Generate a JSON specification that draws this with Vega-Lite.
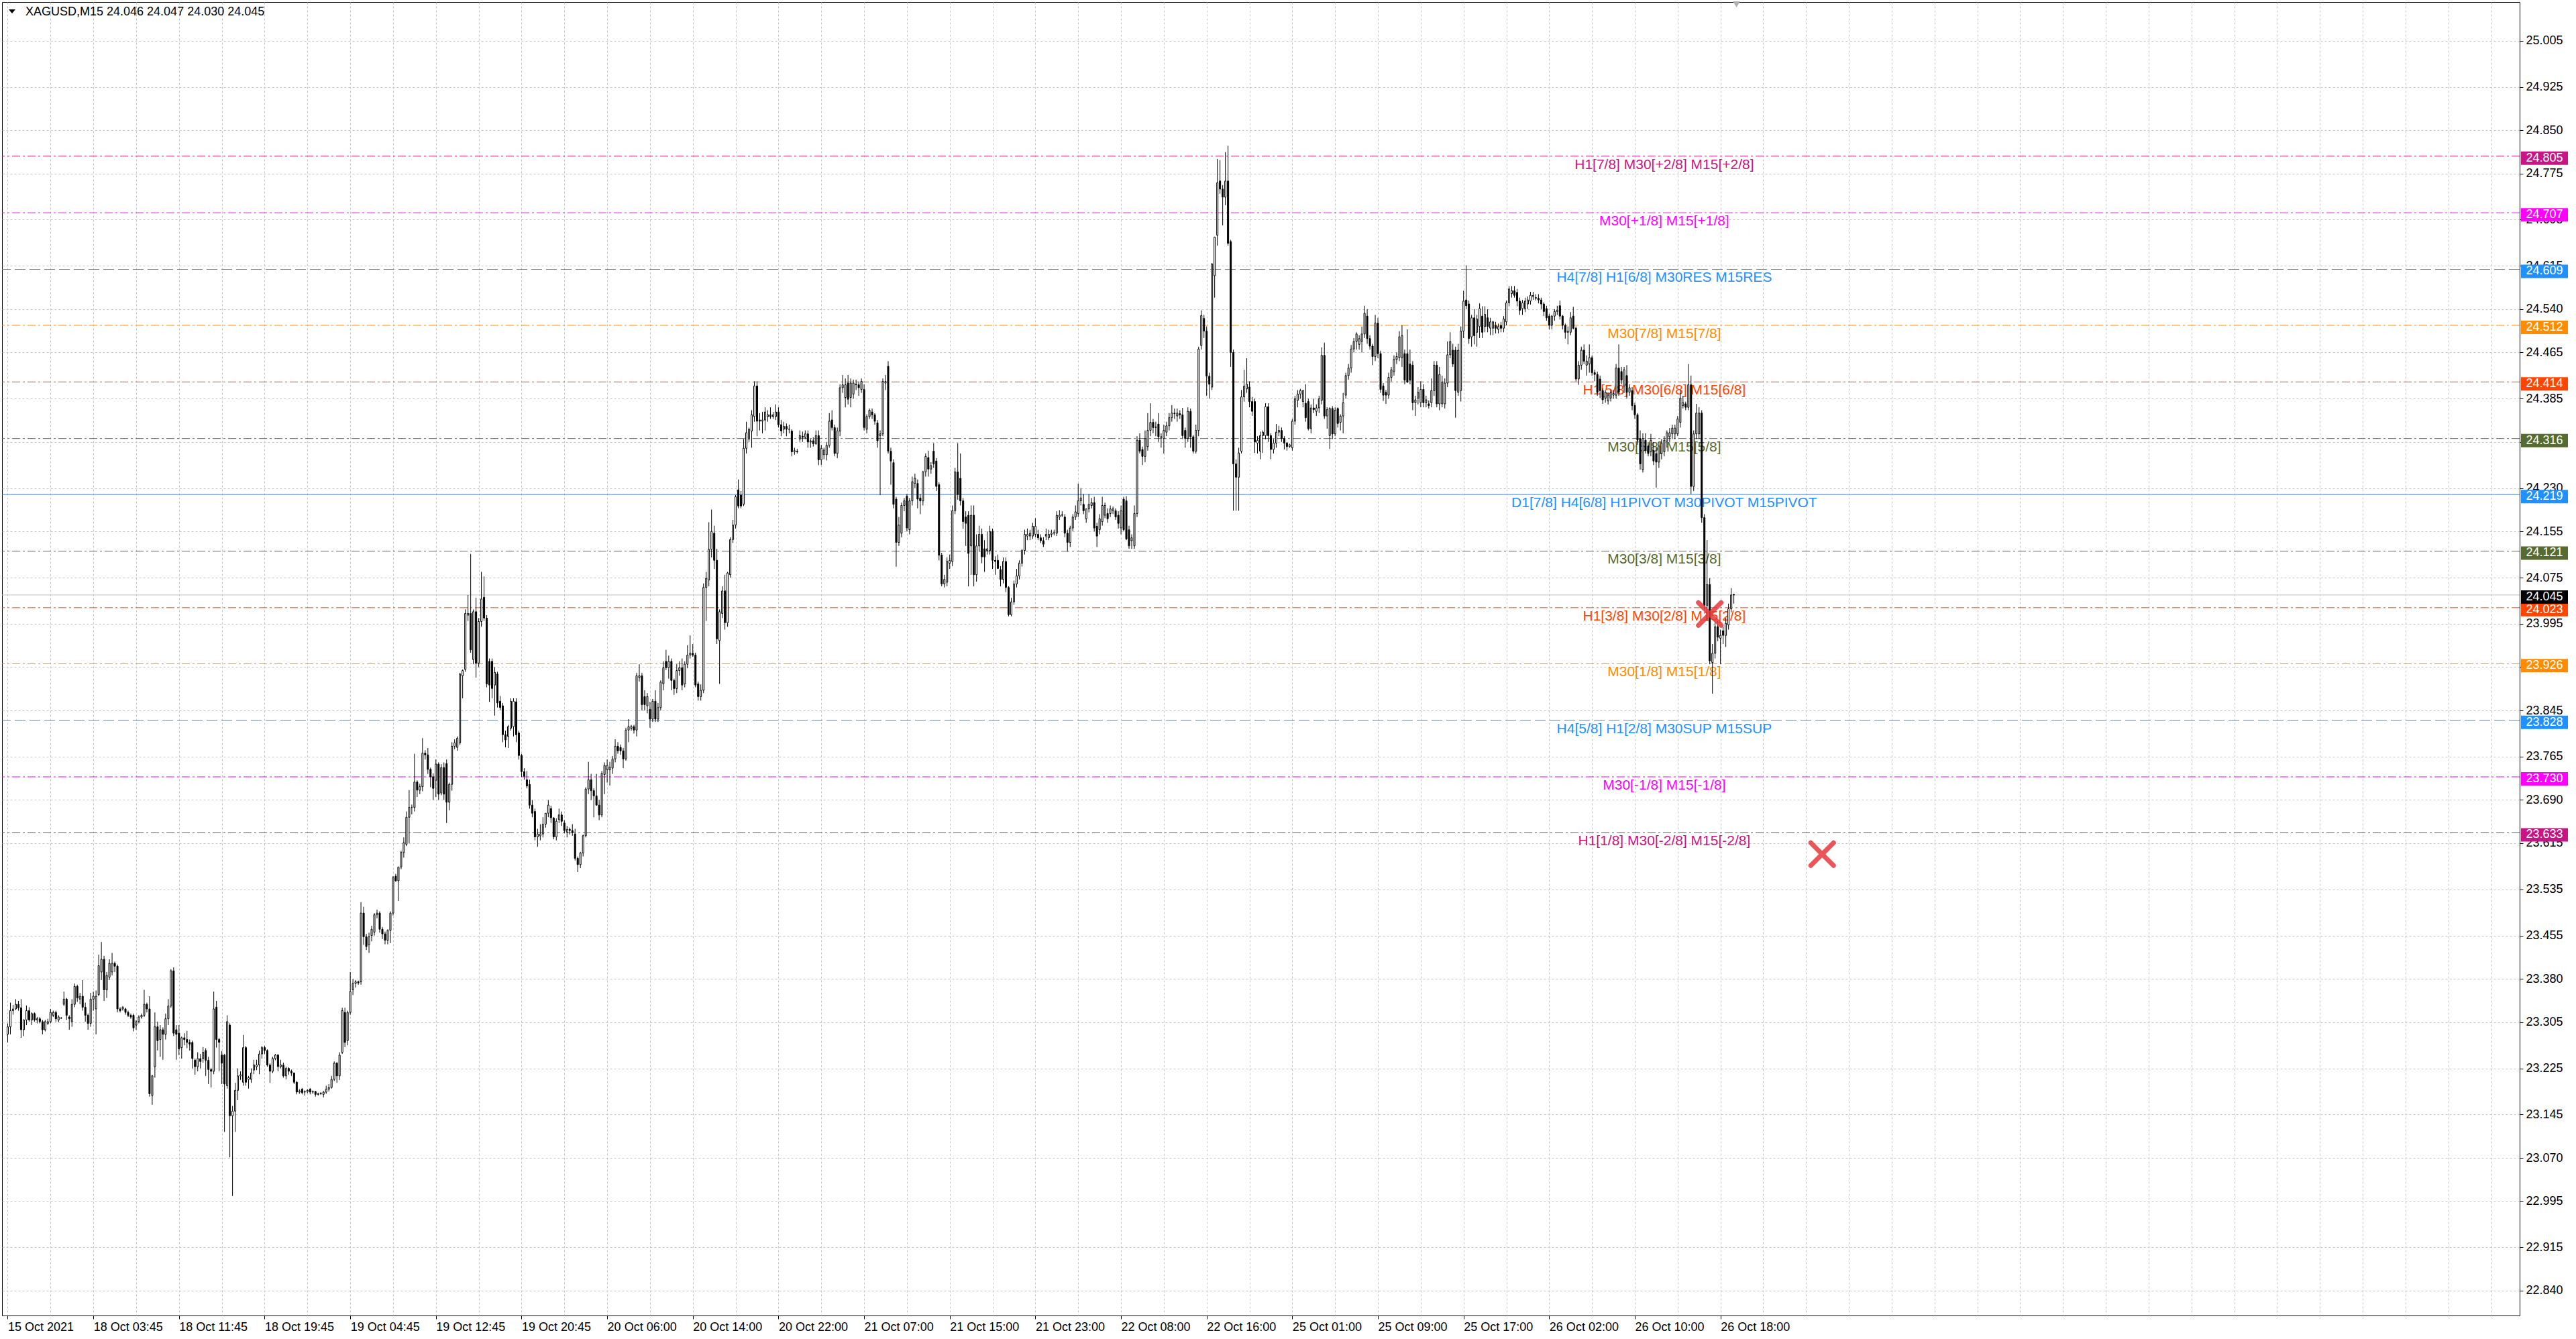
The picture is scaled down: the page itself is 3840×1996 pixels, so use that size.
{
"$schema":"https://vega.github.io/schema/vega-lite/v6.json",
"width":3753,"height":1958,
"autosize":{"type":"none"},
"padding":{"left":3,"top":3,"right":84,"bottom":35},
"background":"white",
"config":{"view":{"stroke":"#000000","strokeWidth":1},"font":"Liberation Sans"},
"datasets":{
"levels":[
{"p":24.805,"k":"vio","lab":"H1[7/8] M30[+2/8] M15[+2/8]"},
{"p":24.707,"k":"mag","lab":"M30[+1/8] M15[+1/8]"},
{"p":24.609,"k":"blu","lab":"H4[7/8] H1[6/8] M30RES M15RES"},
{"p":24.512,"k":"org","lab":"M30[7/8] M15[7/8]"},
{"p":24.414,"k":"red","lab":"H1[5/8] M30[6/8] M15[6/8]"},
{"p":24.316,"k":"olv","lab":"M30[5/8] M15[5/8]"},
{"p":24.219,"k":"piv","lab":"D1[7/8] H4[6/8] H1PIVOT M30PIVOT M15PIVOT"},
{"p":24.121,"k":"olv","lab":"M30[3/8] M15[3/8]"},
{"p":24.023,"k":"red","lab":"H1[3/8] M30[2/8] M15[2/8]"},
{"p":23.926,"k":"org","lab":"M30[1/8] M15[1/8]"},
{"p":23.828,"k":"blu","lab":"H4[5/8] H1[2/8] M30SUP M15SUP"},
{"p":23.730,"k":"mag","lab":"M30[-1/8] M15[-1/8]"},
{"p":23.633,"k":"vio","lab":"H1[1/8] M30[-2/8] M15[-2/8]"}
],
"cur":[{"p":24.045}],
"marks":[{"i":636,"p":24.012},{"i":678,"p":23.596}],
"bars":[
{"i":0,"o":23.284,"h":23.303,"l":23.270,"c":23.297},
{"i":1,"o":23.297,"h":23.339,"l":23.284,"c":23.325},
{"i":2,"o":23.325,"h":23.335,"l":23.318,"c":23.328},
{"i":3,"o":23.328,"h":23.345,"l":23.326,"c":23.336},
{"i":4,"o":23.336,"h":23.342,"l":23.325,"c":23.330},
{"i":5,"o":23.330,"h":23.345,"l":23.278,"c":23.292},
{"i":6,"o":23.292,"h":23.310,"l":23.281,"c":23.309},
{"i":7,"o":23.309,"h":23.334,"l":23.300,"c":23.325},
{"i":8,"o":23.325,"h":23.331,"l":23.306,"c":23.309},
{"i":9,"o":23.309,"h":23.322,"l":23.300,"c":23.320},
{"i":10,"o":23.320,"h":23.322,"l":23.306,"c":23.309},
{"i":11,"o":23.309,"h":23.314,"l":23.303,"c":23.311},
{"i":12,"o":23.311,"h":23.314,"l":23.303,"c":23.306},
{"i":13,"o":23.306,"h":23.309,"l":23.284,"c":23.292},
{"i":14,"o":23.292,"h":23.309,"l":23.289,"c":23.306},
{"i":15,"o":23.303,"h":23.311,"l":23.300,"c":23.306},
{"i":16,"o":23.306,"h":23.328,"l":23.303,"c":23.322},
{"i":17,"o":23.317,"h":23.325,"l":23.314,"c":23.322},
{"i":18,"o":23.322,"h":23.325,"l":23.306,"c":23.311},
{"i":19,"o":23.309,"h":23.317,"l":23.305,"c":23.314},
{"i":20,"o":23.312,"h":23.314,"l":23.311,"c":23.312},
{"i":21,"o":23.336,"h":23.358,"l":23.333,"c":23.345},
{"i":22,"o":23.345,"h":23.347,"l":23.309,"c":23.317},
{"i":23,"o":23.314,"h":23.317,"l":23.292,"c":23.311},
{"i":24,"o":23.306,"h":23.345,"l":23.297,"c":23.336},
{"i":25,"o":23.336,"h":23.372,"l":23.331,"c":23.367},
{"i":26,"o":23.367,"h":23.370,"l":23.340,"c":23.347},
{"i":27,"o":23.345,"h":23.356,"l":23.336,"c":23.350},
{"i":28,"o":23.350,"h":23.378,"l":23.325,"c":23.331},
{"i":29,"o":23.331,"h":23.339,"l":23.306,"c":23.317},
{"i":30,"o":23.317,"h":23.320,"l":23.292,"c":23.303},
{"i":31,"o":23.303,"h":23.356,"l":23.297,"c":23.345},
{"i":32,"o":23.345,"h":23.358,"l":23.325,"c":23.350},
{"i":33,"o":23.328,"h":23.360,"l":23.284,"c":23.350},
{"i":34,"o":23.353,"h":23.422,"l":23.350,"c":23.403},
{"i":35,"o":23.392,"h":23.444,"l":23.378,"c":23.414},
{"i":36,"o":23.414,"h":23.420,"l":23.342,"c":23.361},
{"i":37,"o":23.361,"h":23.392,"l":23.347,"c":23.386},
{"i":38,"o":23.383,"h":23.414,"l":23.378,"c":23.407},
{"i":39,"o":23.392,"h":23.425,"l":23.386,"c":23.407},
{"i":40,"o":23.407,"h":23.410,"l":23.392,"c":23.402},
{"i":41,"o":23.402,"h":23.405,"l":23.322,"c":23.328},
{"i":42,"o":23.328,"h":23.331,"l":23.322,"c":23.325},
{"i":43,"o":23.328,"h":23.333,"l":23.325,"c":23.331},
{"i":44,"o":23.328,"h":23.330,"l":23.318,"c":23.322},
{"i":45,"o":23.322,"h":23.325,"l":23.314,"c":23.317},
{"i":46,"o":23.317,"h":23.320,"l":23.311,"c":23.314},
{"i":47,"o":23.317,"h":23.320,"l":23.289,"c":23.295},
{"i":48,"o":23.300,"h":23.309,"l":23.292,"c":23.306},
{"i":49,"o":23.306,"h":23.317,"l":23.303,"c":23.314},
{"i":50,"o":23.314,"h":23.320,"l":23.311,"c":23.317},
{"i":51,"o":23.317,"h":23.361,"l":23.314,"c":23.336},
{"i":52,"o":23.336,"h":23.339,"l":23.322,"c":23.328},
{"i":53,"o":23.328,"h":23.350,"l":23.176,"c":23.181},
{"i":54,"o":23.178,"h":23.214,"l":23.162,"c":23.212},
{"i":55,"o":23.228,"h":23.322,"l":23.209,"c":23.297},
{"i":56,"o":23.297,"h":23.306,"l":23.256,"c":23.273},
{"i":57,"o":23.275,"h":23.300,"l":23.245,"c":23.292},
{"i":58,"o":23.292,"h":23.296,"l":23.240,"c":23.284},
{"i":59,"o":23.284,"h":23.320,"l":23.275,"c":23.311},
{"i":60,"o":23.311,"h":23.345,"l":23.300,"c":23.333},
{"i":61,"o":23.333,"h":23.397,"l":23.330,"c":23.394},
{"i":62,"o":23.394,"h":23.400,"l":23.281,"c":23.286},
{"i":63,"o":23.292,"h":23.300,"l":23.240,"c":23.284},
{"i":64,"o":23.286,"h":23.300,"l":23.248,"c":23.259},
{"i":65,"o":23.261,"h":23.280,"l":23.242,"c":23.278},
{"i":66,"o":23.278,"h":23.286,"l":23.265,"c":23.275},
{"i":67,"o":23.275,"h":23.290,"l":23.260,"c":23.270},
{"i":68,"o":23.270,"h":23.275,"l":23.256,"c":23.267},
{"i":69,"o":23.270,"h":23.273,"l":23.225,"c":23.242},
{"i":70,"o":23.239,"h":23.242,"l":23.214,"c":23.228},
{"i":71,"o":23.228,"h":23.253,"l":23.220,"c":23.242},
{"i":72,"o":23.242,"h":23.250,"l":23.225,"c":23.237},
{"i":73,"o":23.242,"h":23.262,"l":23.235,"c":23.253},
{"i":74,"o":23.256,"h":23.260,"l":23.212,"c":23.239},
{"i":75,"o":23.239,"h":23.245,"l":23.198,"c":23.223},
{"i":76,"o":23.223,"h":23.226,"l":23.192,"c":23.220},
{"i":77,"o":23.220,"h":23.358,"l":23.215,"c":23.328},
{"i":78,"o":23.331,"h":23.342,"l":23.261,"c":23.275},
{"i":79,"o":23.275,"h":23.278,"l":23.220,"c":23.270},
{"i":80,"o":23.248,"h":23.255,"l":23.198,"c":23.234},
{"i":81,"o":23.248,"h":23.250,"l":23.115,"c":23.198},
{"i":82,"o":23.195,"h":23.317,"l":23.190,"c":23.306},
{"i":83,"o":23.300,"h":23.303,"l":23.071,"c":23.143},
{"i":84,"o":23.143,"h":23.160,"l":23.004,"c":23.151},
{"i":85,"o":23.151,"h":23.200,"l":23.115,"c":23.187},
{"i":86,"o":23.187,"h":23.225,"l":23.170,"c":23.212},
{"i":87,"o":23.212,"h":23.220,"l":23.205,"c":23.214},
{"i":88,"o":23.201,"h":23.283,"l":23.195,"c":23.261},
{"i":89,"o":23.261,"h":23.264,"l":23.195,"c":23.201},
{"i":90,"o":23.206,"h":23.212,"l":23.190,"c":23.209},
{"i":91,"o":23.206,"h":23.225,"l":23.200,"c":23.217},
{"i":92,"o":23.222,"h":23.240,"l":23.215,"c":23.231},
{"i":93,"o":23.228,"h":23.240,"l":23.222,"c":23.231},
{"i":94,"o":23.231,"h":23.256,"l":23.215,"c":23.250},
{"i":95,"o":23.250,"h":23.264,"l":23.242,"c":23.261},
{"i":96,"o":23.261,"h":23.264,"l":23.250,"c":23.256},
{"i":97,"o":23.256,"h":23.258,"l":23.228,"c":23.231},
{"i":98,"o":23.231,"h":23.234,"l":23.200,"c":23.220},
{"i":99,"o":23.220,"h":23.245,"l":23.217,"c":23.242},
{"i":100,"o":23.242,"h":23.250,"l":23.239,"c":23.248},
{"i":101,"o":23.248,"h":23.250,"l":23.220,"c":23.228},
{"i":102,"o":23.228,"h":23.240,"l":23.225,"c":23.231},
{"i":103,"o":23.231,"h":23.235,"l":23.209,"c":23.212},
{"i":104,"o":23.212,"h":23.228,"l":23.206,"c":23.225},
{"i":105,"o":23.225,"h":23.227,"l":23.214,"c":23.220},
{"i":106,"o":23.220,"h":23.223,"l":23.212,"c":23.217},
{"i":107,"o":23.217,"h":23.218,"l":23.198,"c":23.201},
{"i":108,"o":23.201,"h":23.203,"l":23.180,"c":23.184},
{"i":109,"o":23.184,"h":23.189,"l":23.181,"c":23.186},
{"i":110,"o":23.189,"h":23.191,"l":23.180,"c":23.183},
{"i":111,"o":23.184,"h":23.187,"l":23.178,"c":23.185},
{"i":112,"o":23.185,"h":23.189,"l":23.182,"c":23.187},
{"i":113,"o":23.189,"h":23.191,"l":23.180,"c":23.184},
{"i":114,"o":23.184,"h":23.187,"l":23.181,"c":23.185},
{"i":115,"o":23.185,"h":23.186,"l":23.176,"c":23.180},
{"i":116,"o":23.180,"h":23.183,"l":23.178,"c":23.181},
{"i":117,"o":23.181,"h":23.184,"l":23.179,"c":23.182},
{"i":118,"o":23.180,"h":23.186,"l":23.175,"c":23.184},
{"i":119,"o":23.184,"h":23.195,"l":23.181,"c":23.189},
{"i":120,"o":23.189,"h":23.198,"l":23.185,"c":23.192},
{"i":121,"o":23.192,"h":23.212,"l":23.190,"c":23.206},
{"i":122,"o":23.206,"h":23.237,"l":23.203,"c":23.234},
{"i":123,"o":23.234,"h":23.236,"l":23.200,"c":23.212},
{"i":124,"o":23.212,"h":23.253,"l":23.205,"c":23.248},
{"i":125,"o":23.253,"h":23.330,"l":23.250,"c":23.325},
{"i":126,"o":23.322,"h":23.330,"l":23.262,"c":23.270},
{"i":127,"o":23.273,"h":23.325,"l":23.265,"c":23.322},
{"i":128,"o":23.322,"h":23.392,"l":23.318,"c":23.358},
{"i":129,"o":23.361,"h":23.380,"l":23.352,"c":23.372},
{"i":130,"o":23.372,"h":23.378,"l":23.365,"c":23.375},
{"i":131,"o":23.375,"h":23.377,"l":23.370,"c":23.373},
{"i":132,"o":23.375,"h":23.513,"l":23.370,"c":23.494},
{"i":133,"o":23.494,"h":23.505,"l":23.439,"c":23.453},
{"i":134,"o":23.453,"h":23.458,"l":23.430,"c":23.436},
{"i":135,"o":23.439,"h":23.460,"l":23.425,"c":23.453},
{"i":136,"o":23.455,"h":23.472,"l":23.445,"c":23.466},
{"i":137,"o":23.461,"h":23.494,"l":23.455,"c":23.491},
{"i":138,"o":23.491,"h":23.500,"l":23.485,"c":23.494},
{"i":139,"o":23.494,"h":23.497,"l":23.460,"c":23.466},
{"i":140,"o":23.466,"h":23.470,"l":23.449,"c":23.458},
{"i":141,"o":23.458,"h":23.462,"l":23.440,"c":23.447},
{"i":142,"o":23.447,"h":23.466,"l":23.440,"c":23.464},
{"i":143,"o":23.464,"h":23.497,"l":23.442,"c":23.494},
{"i":144,"o":23.494,"h":23.558,"l":23.490,"c":23.555},
{"i":145,"o":23.558,"h":23.562,"l":23.548,"c":23.550},
{"i":146,"o":23.550,"h":23.574,"l":23.515,"c":23.574},
{"i":147,"o":23.574,"h":23.602,"l":23.570,"c":23.599},
{"i":148,"o":23.599,"h":23.625,"l":23.590,"c":23.616},
{"i":149,"o":23.613,"h":23.670,"l":23.610,"c":23.660},
{"i":150,"o":23.660,"h":23.707,"l":23.615,"c":23.677},
{"i":151,"o":23.677,"h":23.682,"l":23.665,"c":23.677},
{"i":152,"o":23.677,"h":23.770,"l":23.670,"c":23.721},
{"i":153,"o":23.721,"h":23.724,"l":23.695,"c":23.707},
{"i":154,"o":23.707,"h":23.718,"l":23.700,"c":23.713},
{"i":155,"o":23.713,"h":23.797,"l":23.705,"c":23.771},
{"i":156,"o":23.771,"h":23.776,"l":23.760,"c":23.768},
{"i":157,"o":23.768,"h":23.780,"l":23.735,"c":23.743},
{"i":158,"o":23.743,"h":23.746,"l":23.712,"c":23.730},
{"i":159,"o":23.730,"h":23.736,"l":23.690,"c":23.710},
{"i":160,"o":23.724,"h":23.760,"l":23.695,"c":23.752},
{"i":161,"o":23.752,"h":23.755,"l":23.690,"c":23.700},
{"i":162,"o":23.702,"h":23.752,"l":23.698,"c":23.746},
{"i":163,"o":23.746,"h":23.755,"l":23.690,"c":23.700},
{"i":164,"o":23.753,"h":23.760,"l":23.650,"c":23.686},
{"i":165,"o":23.686,"h":23.720,"l":23.672,"c":23.717},
{"i":166,"o":23.717,"h":23.790,"l":23.706,"c":23.783},
{"i":167,"o":23.783,"h":23.795,"l":23.778,"c":23.789},
{"i":168,"o":23.781,"h":23.800,"l":23.775,"c":23.797},
{"i":169,"o":23.789,"h":23.910,"l":23.785,"c":23.908},
{"i":170,"o":23.905,"h":23.916,"l":23.866,"c":23.914},
{"i":171,"o":23.916,"h":24.020,"l":23.912,"c":24.013},
{"i":172,"o":24.010,"h":24.045,"l":24.000,"c":24.013},
{"i":173,"o":24.013,"h":24.116,"l":23.945,"c":23.950},
{"i":174,"o":23.933,"h":24.020,"l":23.925,"c":24.016},
{"i":175,"o":24.016,"h":24.040,"l":23.902,"c":23.927},
{"i":176,"o":23.927,"h":24.005,"l":23.920,"c":23.999},
{"i":177,"o":23.999,"h":24.085,"l":23.990,"c":24.038},
{"i":178,"o":24.041,"h":24.077,"l":24.000,"c":24.005},
{"i":179,"o":24.005,"h":24.010,"l":23.885,"c":23.891},
{"i":180,"o":23.930,"h":23.935,"l":23.860,"c":23.889},
{"i":181,"o":23.930,"h":23.935,"l":23.866,"c":23.883},
{"i":182,"o":23.889,"h":23.920,"l":23.836,"c":23.911},
{"i":183,"o":23.908,"h":23.912,"l":23.850,"c":23.858},
{"i":184,"o":23.861,"h":23.870,"l":23.845,"c":23.850},
{"i":185,"o":23.853,"h":23.858,"l":23.790,"c":23.803},
{"i":186,"o":23.803,"h":23.810,"l":23.781,"c":23.794},
{"i":187,"o":23.800,"h":23.820,"l":23.780,"c":23.817},
{"i":188,"o":23.814,"h":23.866,"l":23.810,"c":23.861},
{"i":189,"o":23.817,"h":23.866,"l":23.800,"c":23.861},
{"i":190,"o":23.860,"h":23.866,"l":23.790,"c":23.803},
{"i":191,"o":23.806,"h":23.810,"l":23.760,"c":23.767},
{"i":192,"o":23.767,"h":23.770,"l":23.730,"c":23.739},
{"i":193,"o":23.739,"h":23.745,"l":23.725,"c":23.731},
{"i":194,"o":23.725,"h":23.740,"l":23.710,"c":23.714},
{"i":195,"o":23.717,"h":23.725,"l":23.675,"c":23.681},
{"i":196,"o":23.681,"h":23.690,"l":23.660,"c":23.667},
{"i":197,"o":23.670,"h":23.675,"l":23.620,"c":23.626},
{"i":198,"o":23.626,"h":23.640,"l":23.609,"c":23.631},
{"i":199,"o":23.628,"h":23.648,"l":23.620,"c":23.631},
{"i":200,"o":23.631,"h":23.660,"l":23.625,"c":23.648},
{"i":201,"o":23.648,"h":23.667,"l":23.642,"c":23.667},
{"i":202,"o":23.667,"h":23.690,"l":23.660,"c":23.681},
{"i":203,"o":23.675,"h":23.680,"l":23.650,"c":23.659},
{"i":204,"o":23.659,"h":23.660,"l":23.622,"c":23.626},
{"i":205,"o":23.626,"h":23.658,"l":23.620,"c":23.653},
{"i":206,"o":23.656,"h":23.675,"l":23.650,"c":23.664},
{"i":207,"o":23.664,"h":23.670,"l":23.645,"c":23.653},
{"i":208,"o":23.650,"h":23.655,"l":23.632,"c":23.637},
{"i":209,"o":23.634,"h":23.645,"l":23.625,"c":23.639},
{"i":210,"o":23.639,"h":23.642,"l":23.630,"c":23.637},
{"i":211,"o":23.637,"h":23.648,"l":23.628,"c":23.634},
{"i":212,"o":23.631,"h":23.640,"l":23.585,"c":23.589},
{"i":213,"o":23.589,"h":23.592,"l":23.565,"c":23.578},
{"i":214,"o":23.578,"h":23.600,"l":23.572,"c":23.598},
{"i":215,"o":23.598,"h":23.630,"l":23.592,"c":23.628},
{"i":216,"o":23.628,"h":23.712,"l":23.625,"c":23.709},
{"i":217,"o":23.709,"h":23.756,"l":23.700,"c":23.725},
{"i":218,"o":23.725,"h":23.735,"l":23.690,"c":23.706},
{"i":219,"o":23.706,"h":23.710,"l":23.660,"c":23.697},
{"i":220,"o":23.697,"h":23.735,"l":23.680,"c":23.681},
{"i":221,"o":23.681,"h":23.690,"l":23.655,"c":23.664},
{"i":222,"o":23.664,"h":23.740,"l":23.660,"c":23.736},
{"i":223,"o":23.734,"h":23.755,"l":23.700,"c":23.750},
{"i":224,"o":23.742,"h":23.760,"l":23.720,"c":23.750},
{"i":225,"o":23.742,"h":23.756,"l":23.715,"c":23.747},
{"i":226,"o":23.745,"h":23.766,"l":23.735,"c":23.761},
{"i":227,"o":23.761,"h":23.795,"l":23.755,"c":23.783},
{"i":228,"o":23.783,"h":23.790,"l":23.770,"c":23.775},
{"i":229,"o":23.781,"h":23.786,"l":23.768,"c":23.775},
{"i":230,"o":23.775,"h":23.780,"l":23.745,"c":23.761},
{"i":231,"o":23.761,"h":23.815,"l":23.758,"c":23.811},
{"i":232,"o":23.811,"h":23.830,"l":23.790,"c":23.817},
{"i":233,"o":23.814,"h":23.820,"l":23.810,"c":23.817},
{"i":234,"o":23.817,"h":23.820,"l":23.805,"c":23.811},
{"i":235,"o":23.811,"h":23.910,"l":23.800,"c":23.905},
{"i":236,"o":23.902,"h":23.925,"l":23.895,"c":23.905},
{"i":237,"o":23.905,"h":23.910,"l":23.845,"c":23.855},
{"i":238,"o":23.869,"h":23.880,"l":23.845,"c":23.855},
{"i":239,"o":23.853,"h":23.875,"l":23.840,"c":23.869},
{"i":240,"o":23.847,"h":23.860,"l":23.815,"c":23.830},
{"i":241,"o":23.830,"h":23.865,"l":23.825,"c":23.861},
{"i":242,"o":23.861,"h":23.880,"l":23.825,"c":23.830},
{"i":243,"o":23.830,"h":23.858,"l":23.825,"c":23.850},
{"i":244,"o":23.850,"h":23.897,"l":23.845,"c":23.894},
{"i":245,"o":23.891,"h":23.930,"l":23.880,"c":23.919},
{"i":246,"o":23.930,"h":23.950,"l":23.915,"c":23.919},
{"i":247,"o":23.919,"h":23.940,"l":23.900,"c":23.930},
{"i":248,"o":23.930,"h":23.935,"l":23.880,"c":23.897},
{"i":249,"o":23.897,"h":23.900,"l":23.872,"c":23.883},
{"i":250,"o":23.883,"h":23.925,"l":23.875,"c":23.914},
{"i":251,"o":23.914,"h":23.930,"l":23.905,"c":23.919},
{"i":252,"o":23.919,"h":23.935,"l":23.880,"c":23.889},
{"i":253,"o":23.891,"h":23.930,"l":23.885,"c":23.925},
{"i":254,"o":23.925,"h":23.958,"l":23.918,"c":23.941},
{"i":255,"o":23.941,"h":23.975,"l":23.935,"c":23.944},
{"i":256,"o":23.944,"h":23.960,"l":23.938,"c":23.941},
{"i":257,"o":23.941,"h":23.945,"l":23.885,"c":23.889},
{"i":258,"o":23.891,"h":23.895,"l":23.862,"c":23.869},
{"i":259,"o":23.869,"h":23.890,"l":23.862,"c":23.880},
{"i":260,"o":23.880,"h":24.065,"l":23.875,"c":24.058},
{"i":261,"o":24.058,"h":24.085,"l":24.000,"c":24.074},
{"i":262,"o":24.071,"h":24.171,"l":24.060,"c":24.124},
{"i":263,"o":24.124,"h":24.193,"l":24.110,"c":24.155},
{"i":264,"o":24.152,"h":24.165,"l":24.090,"c":24.105},
{"i":265,"o":24.105,"h":24.125,"l":23.960,"c":23.969},
{"i":266,"o":23.966,"h":24.020,"l":23.891,"c":24.016},
{"i":267,"o":24.013,"h":24.060,"l":24.005,"c":24.052},
{"i":268,"o":24.052,"h":24.080,"l":23.985,"c":23.997},
{"i":269,"o":23.997,"h":24.085,"l":23.990,"c":24.083},
{"i":270,"o":24.080,"h":24.145,"l":24.075,"c":24.141},
{"i":271,"o":24.141,"h":24.175,"l":24.135,"c":24.166},
{"i":272,"o":24.166,"h":24.218,"l":24.160,"c":24.215},
{"i":273,"o":24.227,"h":24.245,"l":24.195,"c":24.199},
{"i":274,"o":24.218,"h":24.225,"l":24.195,"c":24.199},
{"i":275,"o":24.202,"h":24.315,"l":24.199,"c":24.299},
{"i":276,"o":24.299,"h":24.345,"l":24.290,"c":24.326},
{"i":277,"o":24.315,"h":24.335,"l":24.310,"c":24.332},
{"i":278,"o":24.329,"h":24.365,"l":24.300,"c":24.357},
{"i":279,"o":24.354,"h":24.415,"l":24.345,"c":24.407},
{"i":280,"o":24.407,"h":24.415,"l":24.320,"c":24.346},
{"i":281,"o":24.348,"h":24.360,"l":24.330,"c":24.346},
{"i":282,"o":24.346,"h":24.362,"l":24.325,"c":24.348},
{"i":283,"o":24.348,"h":24.370,"l":24.330,"c":24.362},
{"i":284,"o":24.354,"h":24.365,"l":24.345,"c":24.357},
{"i":285,"o":24.357,"h":24.370,"l":24.350,"c":24.354},
{"i":286,"o":24.354,"h":24.362,"l":24.350,"c":24.357},
{"i":287,"o":24.354,"h":24.375,"l":24.348,"c":24.362},
{"i":288,"o":24.362,"h":24.370,"l":24.335,"c":24.340},
{"i":289,"o":24.340,"h":24.348,"l":24.320,"c":24.329},
{"i":290,"o":24.332,"h":24.345,"l":24.325,"c":24.337},
{"i":291,"o":24.337,"h":24.342,"l":24.320,"c":24.332},
{"i":292,"o":24.332,"h":24.340,"l":24.325,"c":24.332},
{"i":293,"o":24.329,"h":24.332,"l":24.285,"c":24.293},
{"i":294,"o":24.293,"h":24.300,"l":24.288,"c":24.295},
{"i":295,"o":24.294,"h":24.298,"l":24.290,"c":24.293},
{"i":296,"o":24.315,"h":24.330,"l":24.310,"c":24.321},
{"i":297,"o":24.320,"h":24.328,"l":24.310,"c":24.318},
{"i":298,"o":24.318,"h":24.330,"l":24.315,"c":24.324},
{"i":299,"o":24.324,"h":24.330,"l":24.300,"c":24.310},
{"i":300,"o":24.310,"h":24.315,"l":24.300,"c":24.312},
{"i":301,"o":24.312,"h":24.318,"l":24.302,"c":24.307},
{"i":302,"o":24.307,"h":24.330,"l":24.305,"c":24.321},
{"i":303,"o":24.321,"h":24.330,"l":24.270,"c":24.279},
{"i":304,"o":24.279,"h":24.305,"l":24.270,"c":24.299},
{"i":305,"o":24.288,"h":24.300,"l":24.280,"c":24.296},
{"i":306,"o":24.288,"h":24.310,"l":24.278,"c":24.304},
{"i":307,"o":24.304,"h":24.360,"l":24.300,"c":24.346},
{"i":308,"o":24.348,"h":24.365,"l":24.330,"c":24.335},
{"i":309,"o":24.335,"h":24.340,"l":24.285,"c":24.290},
{"i":310,"o":24.290,"h":24.335,"l":24.282,"c":24.329},
{"i":311,"o":24.329,"h":24.410,"l":24.320,"c":24.404},
{"i":312,"o":24.404,"h":24.426,"l":24.395,"c":24.409},
{"i":313,"o":24.387,"h":24.420,"l":24.370,"c":24.409},
{"i":314,"o":24.412,"h":24.426,"l":24.375,"c":24.384},
{"i":315,"o":24.387,"h":24.420,"l":24.370,"c":24.412},
{"i":316,"o":24.393,"h":24.418,"l":24.385,"c":24.412},
{"i":317,"o":24.410,"h":24.418,"l":24.400,"c":24.409},
{"i":318,"o":24.409,"h":24.415,"l":24.390,"c":24.404},
{"i":319,"o":24.401,"h":24.420,"l":24.395,"c":24.415},
{"i":320,"o":24.401,"h":24.410,"l":24.330,"c":24.335},
{"i":321,"o":24.332,"h":24.358,"l":24.325,"c":24.354},
{"i":322,"o":24.354,"h":24.368,"l":24.350,"c":24.365},
{"i":323,"o":24.362,"h":24.368,"l":24.350,"c":24.357},
{"i":324,"o":24.357,"h":24.360,"l":24.340,"c":24.346},
{"i":325,"o":24.343,"h":24.348,"l":24.300,"c":24.312},
{"i":326,"o":24.321,"h":24.330,"l":24.218,"c":24.324},
{"i":327,"o":24.324,"h":24.420,"l":24.320,"c":24.415},
{"i":328,"o":24.412,"h":24.426,"l":24.400,"c":24.415},
{"i":329,"o":24.441,"h":24.450,"l":24.290,"c":24.294},
{"i":330,"o":24.294,"h":24.300,"l":24.236,"c":24.277},
{"i":331,"o":24.274,"h":24.280,"l":24.195,"c":24.202},
{"i":332,"o":24.211,"h":24.215,"l":24.094,"c":24.136},
{"i":333,"o":24.136,"h":24.180,"l":24.130,"c":24.166},
{"i":334,"o":24.152,"h":24.205,"l":24.145,"c":24.200},
{"i":335,"o":24.200,"h":24.213,"l":24.190,"c":24.208},
{"i":336,"o":24.216,"h":24.220,"l":24.155,"c":24.161},
{"i":337,"o":24.158,"h":24.213,"l":24.150,"c":24.208},
{"i":338,"o":24.208,"h":24.250,"l":24.200,"c":24.241},
{"i":339,"o":24.238,"h":24.255,"l":24.230,"c":24.247},
{"i":340,"o":24.238,"h":24.245,"l":24.195,"c":24.211},
{"i":341,"o":24.213,"h":24.220,"l":24.185,"c":24.208},
{"i":342,"o":24.208,"h":24.260,"l":24.200,"c":24.258},
{"i":343,"o":24.258,"h":24.290,"l":24.250,"c":24.285},
{"i":344,"o":24.283,"h":24.295,"l":24.250,"c":24.263},
{"i":345,"o":24.263,"h":24.275,"l":24.255,"c":24.269},
{"i":346,"o":24.294,"h":24.308,"l":24.265,"c":24.272},
{"i":347,"o":24.277,"h":24.282,"l":24.225,"c":24.233},
{"i":348,"o":24.236,"h":24.240,"l":24.105,"c":24.114},
{"i":349,"o":24.114,"h":24.118,"l":24.060,"c":24.064},
{"i":350,"o":24.064,"h":24.080,"l":24.058,"c":24.072},
{"i":351,"o":24.067,"h":24.110,"l":24.060,"c":24.103},
{"i":352,"o":24.100,"h":24.115,"l":24.090,"c":24.105},
{"i":353,"o":24.103,"h":24.200,"l":24.095,"c":24.191},
{"i":354,"o":24.191,"h":24.265,"l":24.185,"c":24.258},
{"i":355,"o":24.258,"h":24.308,"l":24.210,"c":24.219},
{"i":356,"o":24.247,"h":24.290,"l":24.200,"c":24.208},
{"i":357,"o":24.208,"h":24.213,"l":24.160,"c":24.172},
{"i":358,"o":24.180,"h":24.190,"l":24.130,"c":24.169},
{"i":359,"o":24.183,"h":24.190,"l":24.060,"c":24.117},
{"i":360,"o":24.130,"h":24.200,"l":24.080,"c":24.183},
{"i":361,"o":24.183,"h":24.200,"l":24.060,"c":24.080},
{"i":362,"o":24.080,"h":24.150,"l":24.068,"c":24.130},
{"i":363,"o":24.130,"h":24.165,"l":24.120,"c":24.150},
{"i":364,"o":24.150,"h":24.160,"l":24.100,"c":24.111},
{"i":365,"o":24.125,"h":24.140,"l":24.085,"c":24.111},
{"i":366,"o":24.122,"h":24.155,"l":24.115,"c":24.125},
{"i":367,"o":24.122,"h":24.165,"l":24.115,"c":24.155},
{"i":368,"o":24.155,"h":24.160,"l":24.090,"c":24.105},
{"i":369,"o":24.105,"h":24.112,"l":24.080,"c":24.103},
{"i":370,"o":24.105,"h":24.115,"l":24.090,"c":24.091},
{"i":371,"o":24.089,"h":24.095,"l":24.060,"c":24.072},
{"i":372,"o":24.072,"h":24.110,"l":24.065,"c":24.103},
{"i":373,"o":24.103,"h":24.110,"l":24.050,"c":24.058},
{"i":374,"o":24.058,"h":24.060,"l":24.008,"c":24.011},
{"i":375,"o":24.011,"h":24.040,"l":24.008,"c":24.033},
{"i":376,"o":24.033,"h":24.070,"l":24.028,"c":24.064},
{"i":377,"o":24.064,"h":24.090,"l":24.058,"c":24.078},
{"i":378,"o":24.078,"h":24.105,"l":24.072,"c":24.100},
{"i":379,"o":24.100,"h":24.125,"l":24.094,"c":24.122},
{"i":380,"o":24.122,"h":24.158,"l":24.115,"c":24.150},
{"i":381,"o":24.147,"h":24.160,"l":24.140,"c":24.150},
{"i":382,"o":24.147,"h":24.158,"l":24.140,"c":24.152},
{"i":383,"o":24.147,"h":24.170,"l":24.142,"c":24.164},
{"i":384,"o":24.150,"h":24.178,"l":24.145,"c":24.164},
{"i":385,"o":24.150,"h":24.158,"l":24.140,"c":24.144},
{"i":386,"o":24.144,"h":24.150,"l":24.135,"c":24.139},
{"i":387,"o":24.139,"h":24.145,"l":24.128,"c":24.133},
{"i":388,"o":24.147,"h":24.160,"l":24.140,"c":24.150},
{"i":389,"o":24.144,"h":24.158,"l":24.140,"c":24.150},
{"i":390,"o":24.150,"h":24.158,"l":24.145,"c":24.152},
{"i":391,"o":24.152,"h":24.158,"l":24.148,"c":24.153},
{"i":392,"o":24.152,"h":24.190,"l":24.147,"c":24.183},
{"i":393,"o":24.180,"h":24.192,"l":24.175,"c":24.183},
{"i":394,"o":24.183,"h":24.190,"l":24.180,"c":24.184},
{"i":395,"o":24.180,"h":24.185,"l":24.145,"c":24.152},
{"i":396,"o":24.152,"h":24.158,"l":24.120,"c":24.136},
{"i":397,"o":24.136,"h":24.165,"l":24.128,"c":24.161},
{"i":398,"o":24.161,"h":24.185,"l":24.155,"c":24.180},
{"i":399,"o":24.180,"h":24.200,"l":24.175,"c":24.189},
{"i":400,"o":24.186,"h":24.238,"l":24.180,"c":24.208},
{"i":401,"o":24.208,"h":24.230,"l":24.200,"c":24.213},
{"i":402,"o":24.202,"h":24.220,"l":24.185,"c":24.191},
{"i":403,"o":24.177,"h":24.195,"l":24.170,"c":24.194},
{"i":404,"o":24.194,"h":24.220,"l":24.188,"c":24.202},
{"i":405,"o":24.200,"h":24.213,"l":24.195,"c":24.205},
{"i":406,"o":24.205,"h":24.215,"l":24.155,"c":24.161},
{"i":407,"o":24.164,"h":24.170,"l":24.128,"c":24.147},
{"i":408,"o":24.158,"h":24.185,"l":24.150,"c":24.177},
{"i":409,"o":24.172,"h":24.215,"l":24.165,"c":24.200},
{"i":410,"o":24.183,"h":24.205,"l":24.178,"c":24.200},
{"i":411,"o":24.186,"h":24.195,"l":24.170,"c":24.177},
{"i":412,"o":24.186,"h":24.200,"l":24.180,"c":24.194},
{"i":413,"o":24.191,"h":24.198,"l":24.185,"c":24.194},
{"i":414,"o":24.191,"h":24.195,"l":24.175,"c":24.180},
{"i":415,"o":24.183,"h":24.190,"l":24.160,"c":24.169},
{"i":416,"o":24.161,"h":24.200,"l":24.150,"c":24.191},
{"i":417,"o":24.211,"h":24.215,"l":24.155,"c":24.158},
{"i":418,"o":24.208,"h":24.216,"l":24.140,"c":24.142},
{"i":419,"o":24.158,"h":24.165,"l":24.125,"c":24.130},
{"i":420,"o":24.139,"h":24.150,"l":24.125,"c":24.144},
{"i":421,"o":24.130,"h":24.200,"l":24.125,"c":24.186},
{"i":422,"o":24.186,"h":24.320,"l":24.180,"c":24.313},
{"i":423,"o":24.313,"h":24.325,"l":24.290,"c":24.294},
{"i":424,"o":24.297,"h":24.302,"l":24.270,"c":24.285},
{"i":425,"o":24.285,"h":24.330,"l":24.275,"c":24.316},
{"i":426,"o":24.302,"h":24.360,"l":24.295,"c":24.330},
{"i":427,"o":24.330,"h":24.377,"l":24.320,"c":24.344},
{"i":428,"o":24.344,"h":24.350,"l":24.325,"c":24.335},
{"i":429,"o":24.335,"h":24.345,"l":24.320,"c":24.336},
{"i":430,"o":24.341,"h":24.360,"l":24.310,"c":24.319},
{"i":431,"o":24.319,"h":24.325,"l":24.300,"c":24.318},
{"i":432,"o":24.316,"h":24.340,"l":24.290,"c":24.330},
{"i":433,"o":24.327,"h":24.345,"l":24.320,"c":24.338},
{"i":434,"o":24.338,"h":24.360,"l":24.330,"c":24.352},
{"i":435,"o":24.352,"h":24.374,"l":24.345,"c":24.360},
{"i":436,"o":24.360,"h":24.368,"l":24.350,"c":24.359},
{"i":437,"o":24.355,"h":24.368,"l":24.345,"c":24.360},
{"i":438,"o":24.359,"h":24.365,"l":24.350,"c":24.357},
{"i":439,"o":24.357,"h":24.369,"l":24.315,"c":24.321},
{"i":440,"o":24.330,"h":24.335,"l":24.300,"c":24.316},
{"i":441,"o":24.316,"h":24.370,"l":24.310,"c":24.363},
{"i":442,"o":24.363,"h":24.368,"l":24.300,"c":24.319},
{"i":443,"o":24.319,"h":24.322,"l":24.290,"c":24.294},
{"i":444,"o":24.294,"h":24.340,"l":24.290,"c":24.330},
{"i":445,"o":24.330,"h":24.475,"l":24.320,"c":24.471},
{"i":446,"o":24.477,"h":24.538,"l":24.470,"c":24.529},
{"i":447,"o":24.524,"h":24.530,"l":24.490,"c":24.502},
{"i":448,"o":24.502,"h":24.510,"l":24.390,"c":24.424},
{"i":449,"o":24.424,"h":24.430,"l":24.385,"c":24.410},
{"i":450,"o":24.405,"h":24.620,"l":24.400,"c":24.618},
{"i":451,"o":24.598,"h":24.665,"l":24.560,"c":24.665},
{"i":452,"o":24.668,"h":24.800,"l":24.650,"c":24.759},
{"i":453,"o":24.762,"h":24.798,"l":24.740,"c":24.748},
{"i":454,"o":24.748,"h":24.755,"l":24.685,"c":24.734},
{"i":455,"o":24.734,"h":24.812,"l":24.720,"c":24.762},
{"i":456,"o":24.762,"h":24.823,"l":24.650,"c":24.654},
{"i":457,"o":24.657,"h":24.660,"l":24.440,"c":24.465},
{"i":458,"o":24.465,"h":24.470,"l":24.191,"c":24.272},
{"i":459,"o":24.272,"h":24.280,"l":24.191,"c":24.249},
{"i":460,"o":24.249,"h":24.300,"l":24.191,"c":24.291},
{"i":461,"o":24.294,"h":24.400,"l":24.290,"c":24.388},
{"i":462,"o":24.388,"h":24.435,"l":24.380,"c":24.407},
{"i":463,"o":24.402,"h":24.455,"l":24.395,"c":24.410},
{"i":464,"o":24.405,"h":24.415,"l":24.370,"c":24.380},
{"i":465,"o":24.380,"h":24.388,"l":24.355,"c":24.363},
{"i":466,"o":24.380,"h":24.385,"l":24.291,"c":24.310},
{"i":467,"o":24.308,"h":24.320,"l":24.290,"c":24.313},
{"i":468,"o":24.294,"h":24.328,"l":24.280,"c":24.321},
{"i":469,"o":24.321,"h":24.330,"l":24.291,"c":24.327},
{"i":470,"o":24.321,"h":24.377,"l":24.315,"c":24.371},
{"i":471,"o":24.371,"h":24.377,"l":24.310,"c":24.321},
{"i":472,"o":24.321,"h":24.325,"l":24.280,"c":24.297},
{"i":473,"o":24.297,"h":24.315,"l":24.290,"c":24.308},
{"i":474,"o":24.308,"h":24.341,"l":24.300,"c":24.327},
{"i":475,"o":24.327,"h":24.338,"l":24.320,"c":24.330},
{"i":476,"o":24.330,"h":24.335,"l":24.310,"c":24.316},
{"i":477,"o":24.316,"h":24.320,"l":24.297,"c":24.308},
{"i":478,"o":24.308,"h":24.310,"l":24.295,"c":24.302},
{"i":479,"o":24.302,"h":24.307,"l":24.300,"c":24.305},
{"i":480,"o":24.300,"h":24.350,"l":24.295,"c":24.346},
{"i":481,"o":24.346,"h":24.390,"l":24.340,"c":24.385},
{"i":482,"o":24.382,"h":24.400,"l":24.370,"c":24.393},
{"i":483,"o":24.393,"h":24.402,"l":24.385,"c":24.399},
{"i":484,"o":24.380,"h":24.400,"l":24.370,"c":24.399},
{"i":485,"o":24.377,"h":24.410,"l":24.345,"c":24.352},
{"i":486,"o":24.380,"h":24.385,"l":24.330,"c":24.333},
{"i":487,"o":24.333,"h":24.375,"l":24.325,"c":24.369},
{"i":488,"o":24.369,"h":24.385,"l":24.360,"c":24.366},
{"i":489,"o":24.363,"h":24.375,"l":24.355,"c":24.369},
{"i":490,"o":24.369,"h":24.390,"l":24.360,"c":24.385},
{"i":491,"o":24.382,"h":24.474,"l":24.375,"c":24.460},
{"i":492,"o":24.460,"h":24.482,"l":24.350,"c":24.355},
{"i":493,"o":24.355,"h":24.370,"l":24.333,"c":24.366},
{"i":494,"o":24.321,"h":24.370,"l":24.298,"c":24.368},
{"i":495,"o":24.368,"h":24.372,"l":24.315,"c":24.324},
{"i":496,"o":24.324,"h":24.370,"l":24.320,"c":24.365},
{"i":497,"o":24.368,"h":24.370,"l":24.335,"c":24.342},
{"i":498,"o":24.344,"h":24.358,"l":24.330,"c":24.355},
{"i":499,"o":24.355,"h":24.395,"l":24.325,"c":24.378},
{"i":500,"o":24.391,"h":24.430,"l":24.385,"c":24.425},
{"i":501,"o":24.425,"h":24.445,"l":24.418,"c":24.438},
{"i":502,"o":24.438,"h":24.478,"l":24.430,"c":24.471},
{"i":503,"o":24.471,"h":24.490,"l":24.465,"c":24.484},
{"i":504,"o":24.484,"h":24.500,"l":24.470,"c":24.497},
{"i":505,"o":24.479,"h":24.495,"l":24.470,"c":24.489},
{"i":506,"o":24.484,"h":24.510,"l":24.465,"c":24.497},
{"i":507,"o":24.497,"h":24.546,"l":24.490,"c":24.533},
{"i":508,"o":24.528,"h":24.540,"l":24.480,"c":24.489},
{"i":509,"o":24.489,"h":24.495,"l":24.470,"c":24.476},
{"i":510,"o":24.476,"h":24.480,"l":24.443,"c":24.458},
{"i":511,"o":24.458,"h":24.530,"l":24.450,"c":24.516},
{"i":512,"o":24.516,"h":24.525,"l":24.455,"c":24.463},
{"i":513,"o":24.463,"h":24.468,"l":24.395,"c":24.401},
{"i":514,"o":24.407,"h":24.412,"l":24.381,"c":24.391},
{"i":515,"o":24.396,"h":24.400,"l":24.376,"c":24.391},
{"i":516,"o":24.391,"h":24.430,"l":24.385,"c":24.422},
{"i":517,"o":24.422,"h":24.440,"l":24.415,"c":24.435},
{"i":518,"o":24.432,"h":24.460,"l":24.425,"c":24.453},
{"i":519,"o":24.453,"h":24.465,"l":24.445,"c":24.458},
{"i":520,"o":24.456,"h":24.502,"l":24.450,"c":24.492},
{"i":521,"o":24.456,"h":24.512,"l":24.440,"c":24.494},
{"i":522,"o":24.463,"h":24.470,"l":24.410,"c":24.417},
{"i":523,"o":24.463,"h":24.505,"l":24.412,"c":24.414},
{"i":524,"o":24.445,"h":24.470,"l":24.410,"c":24.417},
{"i":525,"o":24.443,"h":24.450,"l":24.365,"c":24.378},
{"i":526,"o":24.378,"h":24.390,"l":24.355,"c":24.383},
{"i":527,"o":24.386,"h":24.405,"l":24.375,"c":24.396},
{"i":528,"o":24.378,"h":24.415,"l":24.370,"c":24.401},
{"i":529,"o":24.401,"h":24.410,"l":24.370,"c":24.378},
{"i":530,"o":24.378,"h":24.390,"l":24.370,"c":24.383},
{"i":531,"o":24.376,"h":24.382,"l":24.368,"c":24.373},
{"i":532,"o":24.378,"h":24.420,"l":24.370,"c":24.399},
{"i":533,"o":24.399,"h":24.450,"l":24.390,"c":24.443},
{"i":534,"o":24.443,"h":24.450,"l":24.370,"c":24.376},
{"i":535,"o":24.376,"h":24.440,"l":24.365,"c":24.427},
{"i":536,"o":24.376,"h":24.425,"l":24.370,"c":24.414},
{"i":537,"o":24.376,"h":24.420,"l":24.368,"c":24.412},
{"i":538,"o":24.412,"h":24.484,"l":24.405,"c":24.461},
{"i":539,"o":24.461,"h":24.500,"l":24.455,"c":24.484},
{"i":540,"o":24.469,"h":24.480,"l":24.440,"c":24.445},
{"i":541,"o":24.469,"h":24.475,"l":24.352,"c":24.399},
{"i":542,"o":24.396,"h":24.480,"l":24.390,"c":24.469},
{"i":543,"o":24.399,"h":24.510,"l":24.380,"c":24.502},
{"i":544,"o":24.502,"h":24.572,"l":24.490,"c":24.554},
{"i":545,"o":24.556,"h":24.616,"l":24.540,"c":24.546},
{"i":546,"o":24.549,"h":24.555,"l":24.480,"c":24.489},
{"i":547,"o":24.492,"h":24.530,"l":24.475,"c":24.525},
{"i":548,"o":24.525,"h":24.540,"l":24.479,"c":24.494},
{"i":549,"o":24.500,"h":24.530,"l":24.475,"c":24.523},
{"i":550,"o":24.510,"h":24.550,"l":24.490,"c":24.541},
{"i":551,"o":24.528,"h":24.545,"l":24.490,"c":24.500},
{"i":552,"o":24.510,"h":24.545,"l":24.500,"c":24.531},
{"i":553,"o":24.525,"h":24.540,"l":24.500,"c":24.510},
{"i":554,"o":24.507,"h":24.525,"l":24.495,"c":24.518},
{"i":555,"o":24.507,"h":24.520,"l":24.495,"c":24.518},
{"i":556,"o":24.512,"h":24.518,"l":24.498,"c":24.507},
{"i":557,"o":24.505,"h":24.515,"l":24.498,"c":24.510},
{"i":558,"o":24.512,"h":24.518,"l":24.500,"c":24.507},
{"i":559,"o":24.507,"h":24.528,"l":24.500,"c":24.523},
{"i":560,"o":24.518,"h":24.555,"l":24.512,"c":24.551},
{"i":561,"o":24.551,"h":24.580,"l":24.545,"c":24.575},
{"i":562,"o":24.567,"h":24.580,"l":24.560,"c":24.572},
{"i":563,"o":24.572,"h":24.580,"l":24.560,"c":24.564},
{"i":564,"o":24.569,"h":24.575,"l":24.545,"c":24.554},
{"i":565,"o":24.554,"h":24.560,"l":24.530,"c":24.538},
{"i":566,"o":24.541,"h":24.556,"l":24.530,"c":24.551},
{"i":567,"o":24.541,"h":24.560,"l":24.535,"c":24.554},
{"i":568,"o":24.549,"h":24.562,"l":24.540,"c":24.556},
{"i":569,"o":24.554,"h":24.570,"l":24.548,"c":24.564},
{"i":570,"o":24.562,"h":24.570,"l":24.556,"c":24.564},
{"i":571,"o":24.560,"h":24.566,"l":24.555,"c":24.559},
{"i":572,"o":24.559,"h":24.566,"l":24.550,"c":24.556},
{"i":573,"o":24.556,"h":24.560,"l":24.540,"c":24.549},
{"i":574,"o":24.549,"h":24.552,"l":24.528,"c":24.536},
{"i":575,"o":24.541,"h":24.546,"l":24.520,"c":24.525},
{"i":576,"o":24.528,"h":24.532,"l":24.505,"c":24.512},
{"i":577,"o":24.512,"h":24.530,"l":24.505,"c":24.528},
{"i":578,"o":24.528,"h":24.540,"l":24.520,"c":24.536},
{"i":579,"o":24.536,"h":24.546,"l":24.530,"c":24.538},
{"i":580,"o":24.546,"h":24.555,"l":24.522,"c":24.528},
{"i":581,"o":24.528,"h":24.530,"l":24.505,"c":24.512},
{"i":582,"o":24.512,"h":24.515,"l":24.489,"c":24.500},
{"i":583,"o":24.500,"h":24.510,"l":24.479,"c":24.502},
{"i":584,"o":24.500,"h":24.535,"l":24.495,"c":24.525},
{"i":585,"o":24.528,"h":24.544,"l":24.505,"c":24.507},
{"i":586,"o":24.507,"h":24.510,"l":24.415,"c":24.419},
{"i":587,"o":24.419,"h":24.450,"l":24.409,"c":24.443},
{"i":588,"o":24.443,"h":24.475,"l":24.435,"c":24.469},
{"i":589,"o":24.469,"h":24.479,"l":24.445,"c":24.450},
{"i":590,"o":24.443,"h":24.460,"l":24.425,"c":24.450},
{"i":591,"o":24.445,"h":24.479,"l":24.430,"c":24.456},
{"i":592,"o":24.456,"h":24.460,"l":24.425,"c":24.430},
{"i":593,"o":24.430,"h":24.435,"l":24.415,"c":24.427},
{"i":594,"o":24.427,"h":24.432,"l":24.390,"c":24.396},
{"i":595,"o":24.419,"h":24.425,"l":24.386,"c":24.399},
{"i":596,"o":24.399,"h":24.403,"l":24.376,"c":24.383},
{"i":597,"o":24.386,"h":24.400,"l":24.378,"c":24.396},
{"i":598,"o":24.381,"h":24.396,"l":24.375,"c":24.391},
{"i":599,"o":24.386,"h":24.400,"l":24.380,"c":24.396},
{"i":600,"o":24.391,"h":24.400,"l":24.385,"c":24.394},
{"i":601,"o":24.391,"h":24.445,"l":24.385,"c":24.438},
{"i":602,"o":24.438,"h":24.479,"l":24.390,"c":24.396},
{"i":603,"o":24.432,"h":24.440,"l":24.410,"c":24.417},
{"i":604,"o":24.407,"h":24.440,"l":24.395,"c":24.435},
{"i":605,"o":24.425,"h":24.443,"l":24.385,"c":24.396},
{"i":606,"o":24.396,"h":24.410,"l":24.390,"c":24.404},
{"i":607,"o":24.399,"h":24.405,"l":24.365,"c":24.373},
{"i":608,"o":24.373,"h":24.378,"l":24.350,"c":24.357},
{"i":609,"o":24.357,"h":24.360,"l":24.305,"c":24.313},
{"i":610,"o":24.316,"h":24.330,"l":24.262,"c":24.272},
{"i":611,"o":24.262,"h":24.325,"l":24.257,"c":24.316},
{"i":612,"o":24.313,"h":24.325,"l":24.290,"c":24.295},
{"i":613,"o":24.303,"h":24.310,"l":24.285,"c":24.290},
{"i":614,"o":24.293,"h":24.324,"l":24.285,"c":24.313},
{"i":615,"o":24.295,"h":24.310,"l":24.270,"c":24.277},
{"i":616,"o":24.290,"h":24.300,"l":24.231,"c":24.275},
{"i":617,"o":24.275,"h":24.310,"l":24.265,"c":24.303},
{"i":618,"o":24.290,"h":24.315,"l":24.280,"c":24.308},
{"i":619,"o":24.293,"h":24.320,"l":24.285,"c":24.313},
{"i":620,"o":24.311,"h":24.330,"l":24.300,"c":24.326},
{"i":621,"o":24.319,"h":24.334,"l":24.310,"c":24.326},
{"i":622,"o":24.324,"h":24.340,"l":24.315,"c":24.334},
{"i":623,"o":24.324,"h":24.340,"l":24.315,"c":24.334},
{"i":624,"o":24.324,"h":24.355,"l":24.320,"c":24.350},
{"i":625,"o":24.344,"h":24.400,"l":24.335,"c":24.386},
{"i":626,"o":24.373,"h":24.390,"l":24.368,"c":24.378},
{"i":627,"o":24.376,"h":24.380,"l":24.365,"c":24.370},
{"i":628,"o":24.370,"h":24.445,"l":24.365,"c":24.409},
{"i":629,"o":24.409,"h":24.425,"l":24.220,"c":24.233},
{"i":630,"o":24.233,"h":24.330,"l":24.225,"c":24.324},
{"i":631,"o":24.324,"h":24.376,"l":24.315,"c":24.360},
{"i":632,"o":24.324,"h":24.370,"l":24.315,"c":24.360},
{"i":633,"o":24.360,"h":24.365,"l":24.170,"c":24.179},
{"i":634,"o":24.179,"h":24.185,"l":24.020,"c":24.027},
{"i":635,"o":24.027,"h":24.140,"l":24.000,"c":24.063},
{"i":636,"o":24.063,"h":24.074,"l":23.925,"c":23.931},
{"i":637,"o":23.928,"h":23.960,"l":23.874,"c":23.944},
{"i":638,"o":23.944,"h":24.000,"l":23.935,"c":23.990},
{"i":639,"o":23.990,"h":24.000,"l":23.965,"c":23.972},
{"i":640,"o":23.970,"h":23.985,"l":23.925,"c":23.975},
{"i":641,"o":23.983,"h":23.990,"l":23.960,"c":23.975},
{"i":642,"o":23.975,"h":24.005,"l":23.955,"c":23.996},
{"i":643,"o":23.993,"h":24.030,"l":23.985,"c":24.021},
{"i":644,"o":24.021,"h":24.057,"l":24.015,"c":24.045},
{"i":645,"o":24.046,"h":24.047,"l":24.030,"c":24.045}
]
},
"layer":[
{"data":{"name":"bars"},
 "mark":{"type":"rule","strokeWidth":1,"color":"#000000","opacity":0},
 "encoding":{
  "x":{"field":"i","type":"quantitative","scale":{"domain":[-0.875,937.375],"nice":false,"zero":false},
   "axis":{"orient":"bottom","values":[0,16,32,48,64,80,96,112,128,144,160,176,192,208,224,240,256,272,288,304,320,336,352,368,384,400,416,432,448,464,480,496,512,528,544,560,576,592,608,624,640,656,672,688,704,720,736,752,768,784,800,816,832,848,864,880,896,912,928],
   "labelExpr":"datum.value % 32 == 0 && datum.value <= 640 ? ['15 Oct 2021','18 Oct 03:45','18 Oct 11:45','18 Oct 19:45','19 Oct 04:45','19 Oct 12:45','19 Oct 20:45','20 Oct 06:00','20 Oct 14:00','20 Oct 22:00','21 Oct 07:00','21 Oct 15:00','21 Oct 23:00','22 Oct 08:00','22 Oct 16:00','25 Oct 01:00','25 Oct 09:00','25 Oct 17:00','26 Oct 02:00','26 Oct 10:00','26 Oct 18:00'][datum.value/32] : ''",
   "labelAlign":"left","labelFontSize":18,"labelFont":"Liberation Sans","labelColor":"#000000","labelPadding":3,"tickSize":5,"tickColor":"#000000",
   "tickOpacity":{"condition":{"test":"datum.value % 32 == 0 && datum.value <= 640","value":1},"value":0},
   "domain":false,"grid":true,"gridColor":"#c4c4c4","gridDash":[3,3],"title":null,"labelOverlap":false,"labelBound":false,"labelFlush":false}},
  "y":{"field":"l","type":"quantitative","scale":{"domain":[22.797,25.072],"nice":false,"zero":false},
   "axis":{"orient":"right","values":[25.005,24.925,24.85,24.775,24.695,24.615,24.54,24.465,24.385,24.31,24.23,24.155,24.075,23.995,23.92,23.845,23.765,23.69,23.615,23.535,23.455,23.38,23.305,23.225,23.145,23.07,22.995,22.915,22.84],
   "format":".3f","labelFontSize":18,"labelFont":"Liberation Sans","labelColor":"#000000","labelPadding":4,"tickSize":5,"tickColor":"#000000","domain":false,"grid":true,"gridColor":"#c4c4c4","gridDash":[3,3],"title":null,"labelOverlap":false,"labelBound":false,"labelFlush":false,"labelBaseline":"middle"}},
  "y2":{"field":"h"}
 }},
{"data":{"name":"levels"},
 "mark":{"type":"rule","strokeWidth":1},
 "encoding":{
  "y":{"field":"p","type":"quantitative"},
  "color":{"field":"k","type":"nominal","legend":null,"scale":{"domain":["vio","mag","blu","org","red","olv","piv"],"range":["#C71585","#FF00FF","#1E90FF","#FF8C00","#FF4500","#556B2F","#1E90FF"]}},
  "strokeDash":{"field":"k","type":"nominal","legend":null,"scale":{"domain":["vio","mag","blu","org","red","olv","piv"],"range":[[12,4,3,4],[12,4,3,4],[16,6],[12,4,3,4],[12,4,3,4],[12,4,3,4],[1,0]]}}
 }},
{"data":{"name":"cur"},
 "mark":{"type":"rule","strokeWidth":1,"color":"#c0c0c0"},
 "encoding":{"y":{"field":"p","type":"quantitative"}}},
{"data":{"name":"levels"},
 "mark":{"type":"text","fontSize":21,"font":"Liberation Sans","align":"center","baseline":"middle","dy":13},
 "encoding":{
  "x":{"datum":619,"type":"quantitative"},
  "y":{"field":"p","type":"quantitative"},
  "text":{"field":"lab"},
  "color":{"field":"k","type":"nominal","legend":null}
 }},
{"data":{"name":"bars"},
 "mark":{"type":"rule","strokeWidth":1,"color":"#000000"},
 "encoding":{
  "x":{"field":"i","type":"quantitative"},
  "y":{"field":"l","type":"quantitative"},
  "y2":{"field":"h"}
 }},
{"data":{"name":"bars"},
 "mark":{"type":"bar","size":2,"stroke":"#000000","strokeWidth":1},
 "encoding":{
  "x":{"field":"i","type":"quantitative"},
  "y":{"field":"o","type":"quantitative"},
  "y2":{"field":"c"},
  "fill":{"condition":{"test":"datum.c >= datum.o","value":"#ffffff"},"value":"#000000"}
 }},
{"data":{"name":"marks"},
 "mark":{"type":"point","shape":"M-1,-1L1,1M-1,1L1,-1","filled":false,"size":1156,"strokeWidth":7,"color":"#e8383a","opacity":0.85,"strokeCap":"round"},
 "encoding":{
  "x":{"field":"i","type":"quantitative"},
  "y":{"field":"p","type":"quantitative"}
 }},
{"data":{"name":"levels"},
 "mark":{"type":"point","shape":"M-1,-0.2857H1V0.2857H-1Z","filled":true,"size":4900,"opacity":1,"xOffset":37,"yOffset":3,"strokeWidth":0,"clip":false},
 "encoding":{
  "x":{"value":"width"},
  "y":{"field":"p","type":"quantitative"},
  "color":{"field":"k","type":"nominal","legend":null}
 }},
{"data":{"name":"levels"},
 "mark":{"type":"text","fontSize":18,"font":"Liberation Sans","align":"center","baseline":"middle","xOffset":37,"yOffset":3,"color":"#ffffff"},
 "encoding":{
  "x":{"value":"width"},
  "y":{"field":"p","type":"quantitative"},
  "text":{"field":"p","type":"quantitative","format":".3f"}
 }},
{"data":{"name":"cur"},
 "mark":{"type":"point","shape":"M-1,-0.2857H1V0.2857H-1Z","filled":true,"size":4900,"opacity":1,"xOffset":37,"yOffset":3,"strokeWidth":0,"color":"#000000"},
 "encoding":{
  "x":{"value":"width"},
  "y":{"field":"p","type":"quantitative"}
 }},
{"data":{"name":"cur"},
 "mark":{"type":"text","fontSize":18,"font":"Liberation Sans","align":"center","baseline":"middle","xOffset":37,"yOffset":3,"color":"#ffffff"},
 "encoding":{
  "x":{"value":"width"},
  "y":{"field":"p","type":"quantitative"},
  "text":{"field":"p","type":"quantitative","format":".3f"}
 }},
{"data":{"values":[{"t":"XAGUSD,M15  24.046 24.047 24.030 24.045"}]},
 "mark":{"type":"text","fontSize":18,"font":"Liberation Sans","align":"left","baseline":"middle","dx":30,"dy":15,"color":"#000000"},
 "encoding":{
  "x":{"datum":-0.875,"type":"quantitative"},
  "y":{"datum":25.072,"type":"quantitative"},
  "text":{"field":"t"}
 }},
{"data":{"values":[{}]},
 "mark":{"type":"point","shape":"M-1,-0.6L1,-0.6L0,0.6Z","filled":true,"size":100,"color":"#000000","opacity":1,"xOffset":10,"yOffset":14},
 "encoding":{
  "x":{"datum":-0.875,"type":"quantitative"},
  "y":{"datum":25.072,"type":"quantitative"}
 }},
{"data":{"values":[{}]},
 "mark":{"type":"point","shape":"triangle-down","filled":true,"size":110,"color":"#b0b0b0","opacity":1},
 "encoding":{
  "x":{"datum":646,"type":"quantitative"},
  "y":{"datum":25.068,"type":"quantitative"}
 }}
]
}
